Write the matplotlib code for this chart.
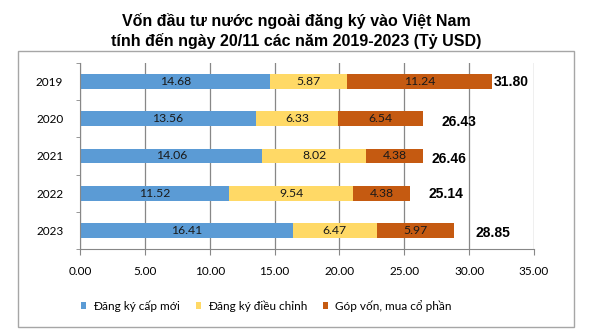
import matplotlib.pyplot as plt
import numpy as np
from matplotlib.patches import Rectangle

years = ['2019', '2020', '2021', '2022', '2023']
cap_moi = [14.68, 13.56, 14.06, 11.52, 16.41]
dieu_chinh = [5.87, 6.33, 8.02, 9.54, 6.47]
gop_von = [11.24, 6.54, 4.38, 4.38, 5.97]
tong = [31.80, 26.43, 26.46, 25.14, 28.85]

series_names = ['Đăng ký cấp mới', 'Đăng ký điều chỉnh', 'Góp vốn, mua cổ phần']
colors = ['#5B9BD5', '#FFD966', '#C55A11']

plt.rcParams['font.family'] = ['Lato', 'DejaVu Sans']

fig = plt.figure(figsize=(5.93, 3.34), dpi=100)
fig.patches.append(Rectangle((0.030, 0.021), 0.938, 0.826, transform=fig.transFigure,
                             fill=False, edgecolor='#A6A6A6', linewidth=1))

ax = fig.add_axes([0.1349, 0.2545, 0.7656, 0.5569])
y = np.arange(len(years))
left = np.zeros(len(years))
for vals, name, c in zip([cap_moi, dieu_chinh, gop_von], series_names, colors):
    bars = ax.barh(y, vals, left=left, height=0.4, color=c, label=name, zorder=2)
    ax.bar_label(bars, labels=['%.2f' % v for v in vals], label_type='center',
                 fontsize=8.8, color='#1a1a1a')
    left += np.array(vals)

# totals, placed a bit off the bar end like in the original
pad_x = [0.1, 1.45, 0.65, 1.75, 1.65]
pad_y = [0.0, 0.08, 0.08, 0.03, 0.08]
for i, t in enumerate(tong):
    ax.text(t + pad_x[i], i + pad_y[i], '%.2f' % t, va='center', ha='left',
            fontsize=10, fontweight='bold', family=['Liberation Sans'])

ax.set_xlim(0, 35)
ax.set_ylim(4.5, -0.5)
ax.set_xticks(np.arange(0, 36, 5))
ax.set_xticklabels(['%.2f' % v for v in np.arange(0, 36, 5)], fontsize=8.5)
ax.set_yticks(y)
ax.set_yticklabels(years, fontsize=8.5)
ax.set_yticks(np.arange(-0.5, 5, 1), minor=True)
ax.tick_params(axis='y', which='major', length=0, pad=12)
ax.tick_params(axis='y', which='minor', length=3, color='#878787')
ax.tick_params(axis='x', length=4, color='#878787', pad=8)
ax.grid(axis='x', color='#878787', linewidth=0.9, zorder=0)
for s in ['top', 'right']:
    ax.spines[s].set_visible(False)
for s in ['left', 'bottom']:
    ax.spines[s].set_color('#878787')

fig.legend(loc='center', bbox_to_anchor=(0.449, 0.085), ncol=3, frameon=False,
           fontsize=8.5, handlelength=0.45, handleheight=0.45, columnspacing=1.3,
           handletextpad=0.6)

fig.text(0.5, 0.96, 'Vốn đầu tư nước ngoài đăng ký vào Việt Nam\ntính đến ngày 20/11 các năm 2019-2023 (Tỷ USD)',
         ha='center', va='top', fontsize=11.5, fontweight='bold',
         family=['Liberation Sans'], linespacing=1.25)

fig.savefig('out.png', dpi=100)
